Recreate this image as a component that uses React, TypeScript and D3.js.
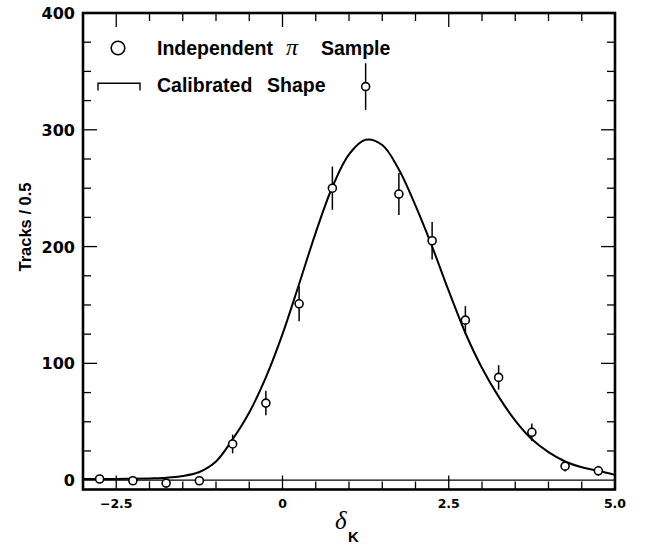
import React, { useRef, useEffect } from "react";
import * as d3 from "d3";

// measured bins (centres), counts and errors
const binCenters = [-2.75, -2.25, -1.75, -1.25, -0.75, -0.25, 0.25, 0.75, 1.25, 1.75, 2.25, 2.75, 3.25, 3.75, 4.25, 4.75];
const counts = [1, -0.5, -2.5, -0.5, 31, 66, 151, 250, 337, 245, 205, 137, 88, 41, 12, 8];
const errors = [3.5, 3, 3, 3.5, 8, 10.5, 15, 18.5, 20, 18, 16, 12, 10.5, 7.5, 4.5, 4.3];

// calibrated shape
const curveX = [-3, -2.5, -2, -1.75, -1.5, -1.25, -1, -0.75, -0.5, -0.25, 0, 0.25, 0.5, 0.75, 1, 1.25, 1.5, 1.75, 2, 2.25, 2.5, 2.75, 3, 3.25, 3.5, 3.75, 4, 4.25, 4.5, 4.75, 5];
const curveY = [1, 1, 1.5, 2, 3.5, 7, 16, 35, 58, 88, 125, 168, 212, 251, 279, 291.5, 287, 266, 235, 200, 162, 126, 96, 71.5, 51, 35, 24, 16, 11, 8, 4.5];

const xTickLabels = [-2.5, 0, 2.5, 5.0];
const yTickLabels = [0, 100, 200, 300, 400];

const App = () => {
  const svgRef = useRef(null);

  useEffect(() => {
    document.body.style.margin = "0";
    const svg = d3.select(svgRef.current);
    svg.selectAll("*").remove();

    const x = d3.scaleLinear().domain([-3, 5]).range([83, 615]);
    const y = d3.scaleLinear().domain([-8, 400]).range([489.5, 13]);
    const [x0, x1] = x.range();
    const [yb, yt] = y.range();

    const tickFont = "'DejaVu Sans', sans-serif";
    const textFont = "'Liberation Sans', Arial, sans-serif";

    // zero line
    svg.append("line")
      .attr("x1", x0).attr("x2", x1)
      .attr("y1", y(0)).attr("y2", y(0))
      .attr("stroke", "#000").attr("stroke-width", 1.3);

    // ticks (inward on all four sides)
    const xt = d3.range(-2.5, 5, 0.5);
    xt.forEach(v => {
      const major = Math.abs(v / 2.5 - Math.round(v / 2.5)) < 1e-6;
      const len = major ? 14 : 8;
      svg.append("line").attr("x1", x(v)).attr("x2", x(v)).attr("y1", yb).attr("y2", yb - len)
        .attr("stroke", "#000").attr("stroke-width", 1.3);
      svg.append("line").attr("x1", x(v)).attr("x2", x(v)).attr("y1", yt).attr("y2", yt + len)
        .attr("stroke", "#000").attr("stroke-width", 1.3);
    });
    const yt2 = d3.range(25, 400, 25);
    yt2.forEach(v => {
      const len = v % 100 === 0 ? 14 : 8;
      svg.append("line").attr("x1", x0).attr("x2", x0 + len).attr("y1", y(v)).attr("y2", y(v))
        .attr("stroke", "#000").attr("stroke-width", 1.3);
      svg.append("line").attr("x1", x1).attr("x2", x1 - len).attr("y1", y(v)).attr("y2", y(v))
        .attr("stroke", "#000").attr("stroke-width", 1.3);
    });

    // frame
    svg.append("rect")
      .attr("x", x0).attr("y", yt).attr("width", x1 - x0).attr("height", yb - yt)
      .attr("fill", "none").attr("stroke", "#000").attr("stroke-width", 2.6);

    // tick labels
    svg.selectAll(".ylab").data(yTickLabels).enter().append("text")
      .attr("x", 75).attr("y", d => y(d) + 6)
      .attr("text-anchor", "end")
      .attr("font-family", tickFont).attr("font-weight", "bold").attr("font-size", 16)
      .text(d => d);
    svg.selectAll(".xlab").data(xTickLabels).enter().append("text")
      .attr("x", d => x(d)).attr("y", 508)
      .attr("text-anchor", "middle")
      .attr("font-family", tickFont).attr("font-weight", "bold").attr("font-size", 12.5)
      .text(d => (d < 0 ? "\u2212" + Math.abs(d).toFixed(1) : d.toFixed(1)).replace("0.0", "0"));

    // axis titles
    svg.append("text")
      .attr("transform", "translate(31,227) rotate(-90)")
      .attr("text-anchor", "middle")
      .attr("font-family", textFont).attr("font-weight", "bold").attr("font-size", 16.5)
      .text("Tracks / 0.5");
    svg.append("text")
      .attr("x", 335).attr("y", 529)
      .attr("font-family", "'Liberation Serif', 'DejaVu Serif', serif").attr("font-style", "italic").attr("font-size", 25)
      .text("\u03b4");
    svg.append("text")
      .attr("x", 348).attr("y", 542)
      .attr("font-family", textFont).attr("font-weight", "bold").attr("font-size", 15)
      .text("K");

    // calibrated shape
    const line = d3.line()
      .x(d => x(d[0]))
      .y(d => y(d[1]))
      .curve(d3.curveCatmullRom);
    svg.append("path")
      .datum(curveX.map((v, i) => [v, curveY[i]]))
      .attr("d", line)
      .attr("fill", "none").attr("stroke", "#000").attr("stroke-width", 2);

    // data points with error bars
    const pts = binCenters.map((v, i) => ({ x: v, y: counts[i], e: errors[i] }));
    svg.selectAll(".err").data(pts).enter().append("line")
      .attr("x1", d => x(d.x)).attr("x2", d => x(d.x))
      .attr("y1", d => y(d.y - d.e)).attr("y2", d => y(d.y + d.e))
      .attr("stroke", "#000").attr("stroke-width", 1.5);
    svg.selectAll(".pt").data(pts).enter().append("circle")
      .attr("cx", d => x(d.x)).attr("cy", d => y(d.y)).attr("r", 4)
      .attr("fill", "#fff").attr("stroke", "#000").attr("stroke-width", 1.6);

    // legend
    svg.append("circle").attr("cx", 118).attr("cy", 48).attr("r", 6.8)
      .attr("fill", "#fff").attr("stroke", "#000").attr("stroke-width", 1.6);
    svg.append("path").attr("d", "M98,90.5V83.3H140V90.5")
      .attr("fill", "none").attr("stroke", "#000").attr("stroke-width", 1.4);
    const legendText = (tx, ty, s) => svg.append("text")
      .attr("x", tx).attr("y", ty)
      .attr("font-family", textFont).attr("font-weight", "bold").attr("font-size", 19.5)
      .text(s);
    legendText(157, 55, "Independent");
    svg.append("text").attr("x", 286).attr("y", 55)
      .attr("font-family", "'Liberation Serif', 'DejaVu Serif', serif").attr("font-style", "italic").attr("font-size", 24)
      .text("\u03c0");
    legendText(321, 55, "Sample");
    legendText(157, 92, "Calibrated");
    legendText(267, 92, "Shape");
  }, []);

  return <svg ref={svgRef} width={645} height={546} style={{ display: "block", background: "#fff" }}></svg>;
};

export default App;
